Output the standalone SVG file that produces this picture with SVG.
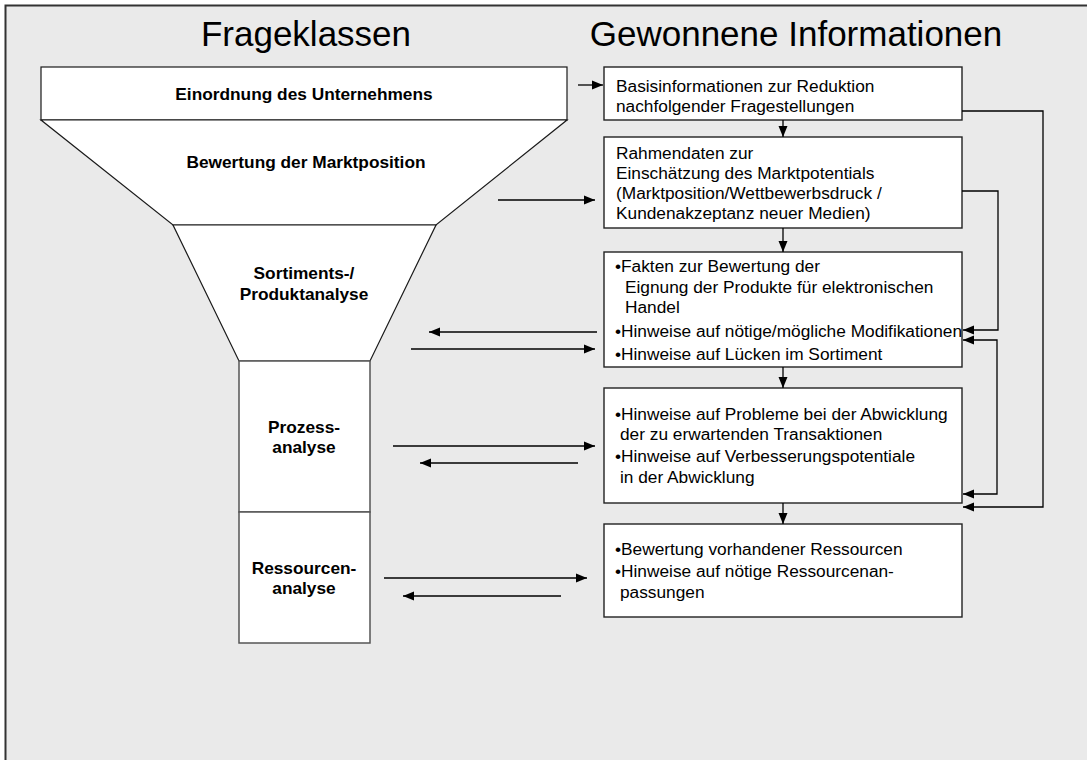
<svg xmlns="http://www.w3.org/2000/svg" width="1087" height="760" viewBox="0 0 1087 760">
<defs>
<marker id="ah" markerUnits="userSpaceOnUse" markerWidth="12" markerHeight="12" viewBox="0 0 12 12" refX="11" refY="6" orient="auto-start-reverse">
<path d="M0,1.5 L11,6 L0,10.5 Z" fill="#000"/>
</marker>
<style>
.title{font-family:"Liberation Sans",Arial,sans-serif;font-size:35px;fill:#000}
.lbl{font-family:"Liberation Sans",Arial,sans-serif;font-size:17.3px;font-weight:bold;fill:#000;text-anchor:middle}
.txt{font-family:"Liberation Sans",Arial,sans-serif;font-size:17.3px;fill:#000}
.shape{fill:#fff;stroke:#1a1a1a;stroke-width:1.2}
.sbox{fill:#fff;stroke:#555;stroke-width:1.5}
.box{fill:#fff;stroke:#222;stroke-width:1.4}
.con{fill:none;stroke:#000;stroke-width:1.3;marker-end:url(#ah)}
</style>
</defs>
<rect x="0" y="0" width="1087" height="760" fill="#fff"/>
<rect x="5.5" y="5.5" width="1100" height="800" fill="#EAEAEA" stroke="#333" stroke-width="2"/>
<text class="title" x="306" y="46" text-anchor="middle">Frageklassen</text>
<text class="title" x="796" y="46" text-anchor="middle">Gewonnene Informationen</text>

<g id="einordnung">
<rect class="shape" x="41" y="67" width="526" height="53"/>
<text class="lbl" x="304" y="100">Einordnung des Unternehmens</text>
</g>
<g id="marktposition">
<polygon class="shape" points="41,120 567,120 436,225 173,225"/>
<text class="lbl" x="306" y="168">Bewertung der Marktposition</text>
</g>
<g id="sortiment">
<polygon class="shape" points="173,225 436,225 370,361 239,361"/>
<text class="lbl" x="304" y="279">Sortiments-/</text>
<text class="lbl" x="304" y="300">Produktanalyse</text>
</g>
<g id="prozess">
<rect class="sbox" x="239" y="361" width="131" height="151"/>
<text class="lbl" x="304" y="433">Prozess-</text>
<text class="lbl" x="304" y="453">analyse</text>
</g>
<g id="ressourcen">
<rect class="sbox" x="239" y="512" width="131" height="131"/>
<text class="lbl" x="304" y="574">Ressourcen-</text>
<text class="lbl" x="304" y="594">analyse</text>
</g>

<g id="info1">
<rect class="box" x="604" y="67" width="358" height="53"/>
<text class="txt" x="616" y="92">Basisinformationen zur Reduktion</text>
<text class="txt" x="616" y="112">nachfolgender Fragestellungen</text>
</g>
<g id="info2">
<rect class="box" x="604" y="137" width="358" height="91"/>
<text class="txt" x="616" y="159">Rahmendaten zur</text>
<text class="txt" x="616" y="179">Einschätzung des Marktpotentials</text>
<text class="txt" x="616" y="199">(Marktposition/Wettbewerbsdruck /</text>
<text class="txt" x="616" y="219">Kundenakzeptanz neuer Medien)</text>
</g>
<g id="info3">
<rect class="box" x="604" y="252" width="358" height="115"/>
<text class="txt" x="615" y="272">•Fakten zur Bewertung der</text>
<text class="txt" x="625" y="293">Eignung der Produkte für elektronischen</text>
<text class="txt" x="625" y="313">Handel</text>
<text class="txt" x="615" y="337">•Hinweise auf nötige/mögliche Modifikationen</text>
<text class="txt" x="615" y="360">•Hinweise auf Lücken im Sortiment</text>
</g>
<g id="info4">
<rect class="box" x="604" y="388" width="358" height="115"/>
<text class="txt" x="615" y="420">•Hinweise auf Probleme bei der Abwicklung</text>
<text class="txt" x="620" y="440">der zu erwartenden Transaktionen</text>
<text class="txt" x="615" y="462">•Hinweise auf Verbesserungspotentiale</text>
<text class="txt" x="620" y="483">in der Abwicklung</text>
</g>
<g id="info5">
<rect class="box" x="604" y="524" width="358" height="93"/>
<text class="txt" x="615" y="555">•Bewertung vorhandener Ressourcen</text>
<text class="txt" x="615" y="577">•Hinweise auf nötige Ressourcenan-</text>
<text class="txt" x="620" y="598">passungen</text>
</g>

<g id="connectors">
<line class="con" x1="578" y1="85" x2="603" y2="85"/>
<line class="con" x1="498" y1="200" x2="595" y2="200"/>
<line class="con" x1="597" y1="332" x2="429" y2="332"/>
<line class="con" x1="411" y1="349" x2="595" y2="349"/>
<line class="con" x1="393" y1="446" x2="595" y2="446"/>
<line class="con" x1="578" y1="463" x2="420" y2="463"/>
<line class="con" x1="384" y1="578" x2="587" y2="578"/>
<line class="con" x1="561" y1="596" x2="403" y2="596"/>
<line class="con" x1="783" y1="120" x2="783" y2="137"/>
<line class="con" x1="783" y1="228" x2="783" y2="252"/>
<line class="con" x1="783" y1="367" x2="783" y2="388"/>
<line class="con" x1="783" y1="503" x2="783" y2="524"/>
<path class="con" d="M962,111 H1043 V507 H963"/>
<path class="con" d="M962,191 H998 V330 H963"/>
<path class="con" style="marker-start:url(#ah)" d="M963,340 H997 V494 H963"/>
</g>
</svg>
